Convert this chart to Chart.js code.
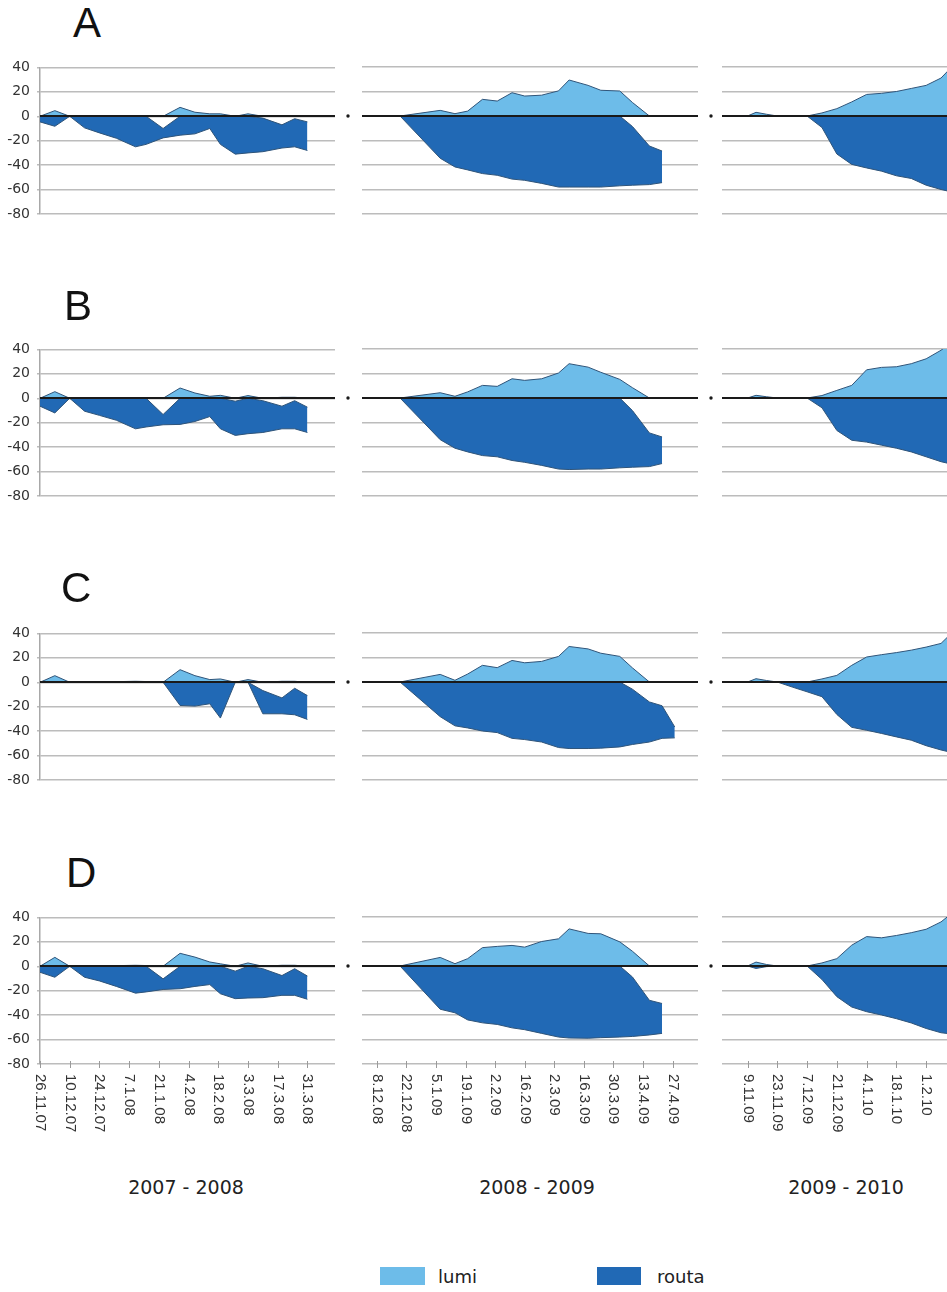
<!DOCTYPE html>
<html lang="fi">
<head>
<meta charset="utf-8">
<title>Lumi ja routa</title>
<script src="https://cdn.jsdelivr.net/npm/chart.js@4.4.1/dist/chart.umd.min.js"></script>
<style>
  html, body { margin: 0; padding: 0; background: #fff; }
  body { position: relative; width: 947px; height: 1292px; overflow: hidden; }
  canvas { position: absolute; }
  .panel-id { position: absolute; font-family: "Liberation Sans", Arial, sans-serif; font-size: 42px; line-height: 1; color: #111; }
  .season { position: absolute; width: 240px; margin-left: -120px; text-align: center; font-family: "DejaVu Sans", sans-serif; font-size: 19px; line-height: 1; color: #222; }
  .key { position: absolute; height: 18px; display: flex; align-items: center; font-family: "DejaVu Sans", sans-serif; font-size: 18px; color: #222; }
  .key i { display: inline-block; height: 18px; }
</style>
</head>
<body>
<script>
// ---- labels ----
const seasonNames = ['2007 - 2008', '2008 - 2009', '2009 - 2010'];
const panelIds = ['A', 'B', 'C', 'D'];
const seriesNames = ['lumi', 'routa'];
const yTickValues = [40, 20, 0, -20, -40, -60, -80];

// ---- date axes of each winter ----
const axisStart = ['26.11.07', '1.12.08', '28.10.09'];
const axisEnd = ['13.4.08', '9.5.09', '4.4.10'];
const tickDates0708 = ['26.11.07', '10.12.07', '24.12.07', '7.1.08', '21.1.08', '4.2.08', '18.2.08', '3.3.08', '17.3.08', '31.3.08'];
const tickDates0809 = ['8.12.08', '22.12.08', '5.1.09', '19.1.09', '2.2.09', '16.2.09', '2.3.09', '16.3.09', '30.3.09', '13.4.09', '27.4.09'];
const tickDates0910 = ['9.11.09', '23.11.09', '7.12.09', '21.12.09', '4.1.10', '18.1.10', '1.2.10', '15.2.10'];

// ---- measurement dates ----
const dates0708 = ['26.11.07', '3.12.07', '10.12.07', '17.12.07', '24.12.07', '1.1.08', '10.1.08', '15.1.08', '23.1.08', '31.1.08', '7.2.08', '14.2.08', '19.2.08', '26.2.08', '3.3.08', '10.3.08', '19.3.08', '25.3.08', '31.3.08'];
const dates0809 = ['19.12.08', '7.1.09', '14.1.09', '20.1.09', '27.1.09', '3.2.09', '10.2.09', '16.2.09', '24.2.09', '4.3.09', '9.3.09', '18.3.09', '24.3.09', '2.4.09', '8.4.09', '16.4.09', '22.4.09', '28.4.09'];
const dates0910 = ['9.11.09', '13.11.09', '18.11.09', '23.11.09', '30.11.09', '7.12.09', '14.12.09', '21.12.09', '28.12.09', '4.1.10', '11.1.10', '18.1.10', '25.1.10', '1.2.10', '8.2.10', '13.2.10'];

// ---- snow depth (cm, positive) and frost layer (upper / lower edge, cm below surface) ----
// A
const lumiA0708 = [0, 4.6, 0, 0.4, 0.4, 0.4, 0.6, 0.6, 0, 7.3, 3.3, 2, 2, 0, 2, 0, 0.6, 0.6, 0];
const routaTopA0708 = [0, 0, 0, 0, 0, 0, 0, 0, -10, 0, 0, 0, 0, 0, 0, -1.5, -7, -2, -4.6];
const routaA0708 = [-4.6, -8.2, 0, -9.5, -13.6, -18, -25, -23, -17.7, -15.5, -14.4, -10, -23, -31, -30, -29, -26, -25, -28];
const lumiA0809 = [0, 4.6, 1.9, 4, 13.6, 12.2, 19, 16.3, 17, 20.5, 29.4, 25, 21, 20.4, 11, 0, null, null];
const routaTopA0809 = [0, 0, 0, 0, 0, 0, 0, 0, 0, 0, 0, 0, 0, 0, -8.6, -24.5, -28.6, null];
const routaA0809 = [0, -34.5, -41.6, -44, -47, -48.4, -51.5, -52.5, -55, -58, -58, -58, -58, -57, -56.5, -56, -54.4, null];
const lumiA0910 = [0, 3, 1.4, 0, 0, 0, 2.5, 6, 11.5, 17.6, 18.5, 20, 22.5, 25, 31, 40];
const routaTopA0910 = [0, 0, 0, 0, 0, 0, 0, 0, 0, 0, 0, 0, 0, 0, 0, 0];
const routaA0910 = [0, 0, 0, 0, 0, 0, -9.4, -31, -39.5, -42.4, -45, -48.8, -51, -56.5, -60, -62];
// B
const lumiB0708 = [0, 5.4, 0, 0.4, 0.4, 0.5, 0.6, 0.6, 0, 8.4, 4.3, 1.6, 2.4, 0, 2.2, 0, 0.8, 0.8, 0];
const routaTopB0708 = [0, 0, 0, 0, 0, 0, 0, 0, -13.3, 0, 0, 0, 0, -2.4, 0, -2, -6.5, -2, -7.3];
const routaB0708 = [-6.5, -12, 0, -10.6, -14, -18, -25, -23.5, -21.7, -21.4, -19, -15, -25, -30.4, -29, -28, -25, -25, -28];
const lumiB0809 = [0, 4.3, 1.4, 5, 10.3, 9.5, 15.7, 14.4, 15.7, 20.4, 28, 25.2, 21, 15.2, 8.4, 0, null, null];
const routaTopB0809 = [0, 0, 0, 0, 0, 0, 0, 0, 0, 0, 0, 0, 0, 0, -10.3, -28.5, -31.8, null];
const routaB0809 = [0, -34, -41, -44, -47, -48, -51, -52.5, -55, -58, -58.4, -58, -58, -57, -56.5, -56, -53.5, null];
const lumiB0910 = [0, 2.2, 1, 0, 0, 0, 2, 6.2, 10.3, 23, 25, 25.5, 28, 32, 39, 45.5];
const routaTopB0910 = [0, 0, 0, 0, 0, 0, 0, 0, 0, 0, 0, 0, 0, 0, 0, 0];
const routaB0910 = [0, 0, 0, 0, 0, 0, -8, -26.5, -34.5, -36, -38.5, -41, -44, -48, -52, -54];
// C
const lumiC0708 = [0, 5.4, 0, 0, 0.5, 0.5, 0.8, 0.6, 0, 10.3, 5.4, 2.2, 2.7, 0, 2.2, 0, 0.8, 0.8, 0];
const routaTopC0708 = [0, 0, 0, 0, 0, 0, 0, 0, 0, 0, 0, 0, 0, 0, 0, -6.8, -12.8, -4.9, -10.9];
const routaC0708 = [0, 0, 0, 0, 0, 0, 0, 0, 0, -19, -19.5, -17.6, -29.3, 0, 0, -25.8, -25.8, -26.6, -30.4];
const lumiC0809 = [0, 6.2, 1.4, 6.5, 13.6, 11.7, 17.6, 15.7, 16.8, 20.9, 29, 27, 23.5, 20.9, 11.5, 0, null, null];
const routaTopC0809 = [0, 0, 0, 0, 0, 0, 0, 0, 0, 0, 0, 0, 0, 0, -5.9, -16.3, -19.4, -36.7];
const routaC0809 = [0, -28.3, -35.8, -37.5, -40, -41.3, -46, -47, -49, -53.5, -54.3, -54.3, -54, -53, -51, -49, -46, -45.6];
const lumiC0910 = [0, 2.7, 1.2, 0, 0, 0, 2.5, 5.4, 13.6, 20.4, 22.3, 24, 26, 28.5, 31.5, 40];
const routaTopC0910 = [0, 0, 0, 0, 0, 0, 0, 0, 0, 0, 0, 0, 0, 0, 0, 0];
const routaC0910 = [0, 0, 0, 0, -4.1, -8, -12, -26.5, -37, -39.4, -42, -44.8, -47.5, -52, -55.5, -57.5];
// D
const lumiD0708 = [0, 7.3, 0, 0.4, 0.4, 0.5, 0.8, 0.6, 0, 10.6, 7.5, 3.5, 2, 0, 2.7, 0, 0.8, 0.8, 0];
const routaTopD0708 = [0, 0, 0, 0, 0, 0, 0, 0, -10.3, 0, 0, 0, 0, -4, 0, -2, -7.6, -2, -8];
const routaD0708 = [-4.9, -9, 0, -9, -12, -16.5, -22, -21, -19, -18.4, -16.5, -15, -22.5, -26.5, -26, -25.7, -23.8, -23.8, -27];
const lumiD0809 = [0, 7, 1.9, 6, 15, 16, 16.8, 15.4, 20, 22.2, 30.3, 26.6, 26.3, 19.7, 12, 0, null, null];
const routaTopD0809 = [0, 0, 0, 0, 0, 0, 0, 0, 0, 0, 0, 0, 0, 0, -9, -28, -30.6, null];
const routaD0809 = [0, -35.3, -38.2, -44, -46.4, -47.7, -50.5, -52, -55, -58, -58.8, -59, -58.5, -58, -57.5, -56.3, -55, null];
const lumiD0910 = [0, 3.2, 1.2, 0, 0, 0, 2.5, 6, 17, 24, 23, 24.9, 27.2, 30, 36, 43];
const routaTopD0910 = [0, 0, 0, 0, 0, 0, 0, 0, 0, 0, 0, 0, 0, 0, 0, 0];
const routaD0910 = [0, -2, -0.5, 0, 0, 0, -11, -25, -33.5, -37.3, -40, -43, -46.5, -51, -54.5, -55.5];

// ---- grouping ----
const seasonDates = [dates0708, dates0809, dates0910];
const seasonTicks = [tickDates0708, tickDates0809, tickDates0910];
const panels = {
  A: [[lumiA0708, routaTopA0708, routaA0708], [lumiA0809, routaTopA0809, routaA0809], [lumiA0910, routaTopA0910, routaA0910]],
  B: [[lumiB0708, routaTopB0708, routaB0708], [lumiB0809, routaTopB0809, routaB0809], [lumiB0910, routaTopB0910, routaB0910]],
  C: [[lumiC0708, routaTopC0708, routaC0708], [lumiC0809, routaTopC0809, routaC0809], [lumiC0910, routaTopC0910, routaC0910]],
  D: [[lumiD0708, routaTopD0708, routaD0708], [lumiD0809, routaTopD0809, routaD0809], [lumiD0910, routaTopD0910, routaD0910]]
};

// ---- styling and layout ----
const LUMI_FILL = '#6dbce9';
const ROUTA_FILL = '#2169b5';
const EDGE = '#2f5479';
const GRID = '#bcbcbc';
const INK = '#1a1a1a';
const rowTop = [67, 349, 633, 917];      // pixel row of the +40 line
const PLOT_H = 147;                       // +40 ... -80
const colLeft = [40, 362, 722];
const colWidth = [295, 336, 336];
const axisWidth = [40, 22, 22];
const PAD_TOP = 15, PAD_RIGHT = 4, PAD_BOTTOM = 16, PAD_BOTTOM_LAST = 90;
const dotGap = [0, 14, 11];

const toDay = s => { const [d, m, y] = s.split('.').map(Number); return Date.UTC(2000 + y, m - 1, d) / 864e5; };
const points = (dates, vals) => dates.map((d, i) => ({ x: toDay(d), y: vals[i] === undefined ? null : vals[i] }));

function makeDecor(tickDates, gap) {
  return {
    id: 'decor',
    afterDatasetsDraw(chart) {
      const { ctx, chartArea: a, scales } = chart;
      const y0 = Math.round(scales.y.getPixelForValue(0));
      ctx.save();
      ctx.strokeStyle = INK;
      ctx.lineWidth = 2;
      ctx.beginPath(); ctx.moveTo(a.left, y0); ctx.lineTo(a.right, y0); ctx.stroke();
      if (gap) {
        ctx.fillStyle = INK;
        ctx.beginPath(); ctx.arc(a.left - gap, y0, 1.7, 0, Math.PI * 2); ctx.fill();
      }
      if (tickDates) {
        ctx.font = '15px "Liberation Sans", Arial, sans-serif';
        ctx.fillStyle = '#333';
        ctx.strokeStyle = '#9a9a9a';
        ctx.lineWidth = 1;
        tickDates.forEach(t => {
          const px = Math.round(scales.x.getPixelForValue(toDay(t))) + 0.5;
          ctx.beginPath(); ctx.moveTo(px, a.bottom - 3); ctx.lineTo(px, a.bottom + 4); ctx.stroke();
          ctx.save();
          ctx.translate(px, a.bottom + 10);
          ctx.rotate(Math.PI / 2);
          ctx.textAlign = 'left';
          ctx.textBaseline = 'middle';
          ctx.fillText(t, 0, 0);
          ctx.restore();
        });
      }
      ctx.restore();
    }
  };
}

function makePanel(r, c) {
  const id = panelIds[r];
  const [lumi, top, routa] = panels[id][c];
  const dates = seasonDates[c];
  const lastRow = r === panelIds.length - 1;
  const padBottom = lastRow ? PAD_BOTTOM_LAST : PAD_BOTTOM;
  const cv = document.createElement('canvas');
  const w = axisWidth[c] + colWidth[c] + PAD_RIGHT;
  const h = PAD_TOP + PLOT_H + padBottom;
  cv.width = w; cv.height = h;
  cv.style.left = (colLeft[c] - axisWidth[c]) + 'px';
  cv.style.top = (rowTop[r] - PAD_TOP) + 'px';
  document.body.appendChild(cv);
  const line = { pointRadius: 0, borderWidth: 1, tension: 0, borderColor: EDGE };
  new Chart(cv, {
    type: 'line',
    data: {
      datasets: [
        { ...line, label: seriesNames[0], data: points(dates, lumi), fill: 'origin', backgroundColor: LUMI_FILL },
        { ...line, label: seriesNames[1] + ' yläraja', data: points(dates, top), fill: false },
        { ...line, label: seriesNames[1], data: points(dates, routa), fill: '-1', backgroundColor: ROUTA_FILL }
      ]
    },
    options: {
      responsive: false,
      animation: false,
      events: [],
      layout: { padding: { top: PAD_TOP, right: PAD_RIGHT, bottom: padBottom, left: 0 } },
      plugins: { legend: { display: false }, tooltip: { enabled: false } },
      scales: {
        x: { type: 'linear', display: false, min: toDay(axisStart[c]), max: toDay(axisEnd[c]) },
        y: {
          min: -80, max: 40,
          afterBuildTicks: s => { s.ticks = yTickValues.map(v => ({ value: v })); },
          afterFit: s => { s.width = axisWidth[c]; },
          ticks: { display: c === 0, padding: 7, color: '#333', font: { family: '"DejaVu Sans", sans-serif', size: 14 } },
          grid: { color: GRID, lineWidth: 1.5, drawTicks: c === 0, tickLength: 3 },
          border: { display: c === 0, color: '#a8a8a8', width: 1.5 }
        }
      }
    },
    plugins: [makeDecor(lastRow ? seasonTicks[c] : null, dotGap[c])]
  });
}

for (let r = 0; r < panelIds.length; r++) {
  for (let c = 0; c < seasonNames.length; c++) makePanel(r, c);
}

// panel letters
const idPos = [[73, 2], [64, 285], [61, 567], [66, 852]];
panelIds.forEach((t, i) => {
  const d = document.createElement('div');
  d.className = 'panel-id';
  d.textContent = t;
  d.style.left = idPos[i][0] + 'px';
  d.style.top = idPos[i][1] + 'px';
  document.body.appendChild(d);
});

// winter titles
const seasonCenter = [186, 537, 846];
seasonNames.forEach((t, i) => {
  const d = document.createElement('div');
  d.className = 'season';
  d.textContent = t;
  d.style.left = seasonCenter[i] + 'px';
  d.style.top = '1178px';
  document.body.appendChild(d);
});

// legend
const keyPos = [[380, 45, 13], [597, 44, 16]];
const keyFill = [LUMI_FILL, ROUTA_FILL];
seriesNames.forEach((t, i) => {
  const k = document.createElement('div');
  k.className = 'key';
  k.style.left = keyPos[i][0] + 'px';
  k.style.top = '1267px';
  const sw = document.createElement('i');
  sw.style.width = keyPos[i][1] + 'px';
  sw.style.marginRight = keyPos[i][2] + 'px';
  sw.style.background = keyFill[i];
  k.appendChild(sw);
  k.appendChild(document.createTextNode(t));
  document.body.appendChild(k);
});
</script>
</body>
</html>
